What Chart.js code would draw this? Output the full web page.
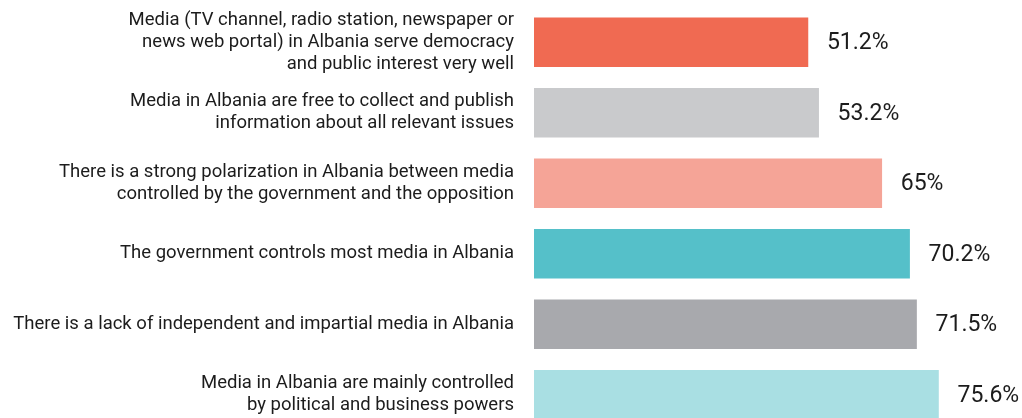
<!DOCTYPE html>
<html>
<head>
<meta charset="utf-8">
<script src="https://cdn.jsdelivr.net/npm/chart.js@4/dist/chart.umd.min.js"></script>
<style>
  html, body { margin: 0; padding: 0; background: #ffffff; overflow: hidden; }
  #wrap { width: 1022px; height: 418px; overflow: hidden; position: relative; }
  canvas { display: block; }
</style>
</head>
<body>
<div id="wrap"><canvas id="c" width="1069" height="430"></canvas></div>
<script>
// Survey statements (multi-line labels) and share of respondents agreeing
const statements = [
  ["Media (TV channel, radio station, newspaper or", "news web portal) in Albania serve democracy", "and public interest very well"],
  ["Media in Albania are free to collect and publish", "information about all relevant issues"],
  ["There is a strong polarization in Albania between media", "controlled by the government and the opposition"],
  ["The government controls most media in Albania"],
  ["There is a lack of independent and impartial media in Albania"],
  ["Media in Albania are mainly controlled", "by political and business powers"]
];
const agreeShare = [51.2, 53.2, 65, 70.2, 71.5, 75.6];
const barColors = ["#F06A52", "#C9CACC", "#F5A497", "#55C0C9", "#A8A9AD", "#A9DFE3"];

// Writes the percentage just past the end of each bar
const valueLabels = {
  id: 'valueLabels',
  afterDatasetsDraw(chart) {
    const ctx = chart.ctx;
    const meta = chart.getDatasetMeta(0);
    ctx.save();
    ctx.font = '23px Roboto';
    ctx.fillStyle = '#1c1c1c';
    ctx.textAlign = 'left';
    ctx.textBaseline = 'middle';
    meta.data.forEach((bar, i) => {
      ctx.fillText(agreeShare[i] + '%', bar.x + 19, bar.y + 1);
    });
    ctx.restore();
  }
};

new Chart(document.getElementById('c'), {
  type: 'bar',
  data: {
    labels: statements,
    datasets: [{
      data: agreeShare,
      backgroundColor: barColors,
      borderWidth: 0,
      barThickness: 49
    }]
  },
  options: {
    indexAxis: 'y',
    responsive: false,
    animation: false,
    layout: { padding: { top: 7, right: 0, bottom: 0, left: 0 } },
    plugins: {
      legend: { display: false },
      tooltip: { enabled: false }
    },
    scales: {
      x: {
        display: false,
        min: 0,
        max: 100
      },
      y: {
        grid: { display: false, drawTicks: false },
        border: { display: false },
        ticks: {
          color: '#1c1c1c',
          padding: 20,
          font: { family: 'Roboto', size: 18.5, lineHeight: 1.19 }
        },
        afterFit(scale) {
          scale.width = 534;
          // keep the tall multi-line labels from shrinking the plot area
          scale.paddingTop = 0;
          scale.paddingBottom = 0;
        }
      }
    }
  },
  plugins: [valueLabels]
});
</script>
</body>
</html>
